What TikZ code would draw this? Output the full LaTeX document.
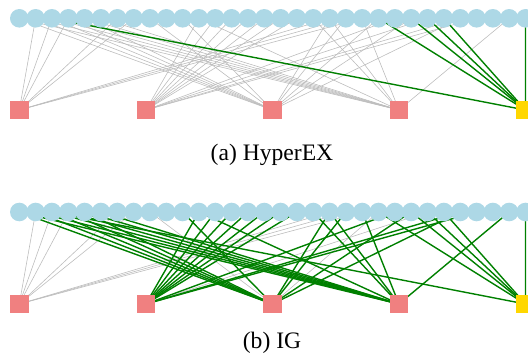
\documentclass[tikz,border=0pt]{standalone}
\usepackage{fontspec}
\setmainfont{Liberation Serif}
\definecolor{nodeblue}{HTML}{ADD8E6}
\definecolor{edgered}{HTML}{F08080}
\definecolor{edgegold}{HTML}{FFD700}
\definecolor{linkgray}{HTML}{BDBDBD}
\definecolor{linkgreen}{HTML}{008000}
\tikzset{
  vnode/.style={circle,fill=nodeblue,draw=none,minimum size=18.6pt,inner sep=0pt},
  hnode/.style={rectangle,fill=edgered,draw=none,minimum size=18.7pt,inner sep=0pt},
  hgold/.style={hnode,fill=edgegold},
  grayedge/.style={draw=linkgray,line width=0.6pt},
  greenedge/.style={draw=linkgreen,line width=1.4pt},
  caption/.style={anchor=base,font=\fontsize{23.6}{28}\selectfont,inner sep=0pt}
}
\begin{document}
\begin{tikzpicture}[x=1pt,y=-1pt]
\useasboundingbox (0,0) rectangle (528,356);
% vertex positions (circles) and hyperedge positions (squares)
\foreach \k in {0,...,31} {
  \coordinate (a\k) at ({19.3+16.33*\k},18.3);
  \coordinate (b\k) at ({19.3+16.33*\k},212);
}
\foreach \j in {0,...,4} {
  \coordinate (sa\j) at ({19.3+126.55*\j},110);
  \coordinate (sb\j) at ({19.3+126.55*\j},304);
}
% ---------- panel (a): HyperEX ----------
\foreach \k/\j in {1/0,2/0,3/0,6/0,7/0,19/0,20/0,21/0,
  11/1,12/1,13/1,14/1,15/1,16/1,17/1,23/1,25/1,27/1,28/1,
  0/2,1/2,2/2,3/2,4/2,8/2,10/2,19/2,20/2,22/2,24/2,27/2,
  0/3,1/3,2/3,3/3,4/3,5/3,11/3,18/3,19/3,21/3,30/3}
  \draw[grayedge] (a\k) -- (sa\j);
\foreach \k in {2,22,24,25,26,31}
  \draw[greenedge] (a\k) -- (sa4);
\foreach \k in {0,...,31} \node[vnode] (va\k) at (a\k) {};
\foreach \j in {0,...,3} \node[hnode] (ha\j) at (sa\j) {};
\node[hgold] (ha4) at (sa4) {};
\node[caption] (capa) at (272,160) {(a) HyperEX};
% ---------- panel (b): IG ----------
\foreach \k/\j in {1/0,2/0,3/0,6/0,7/0,19/0,20/0,21/0,
  25/1,8/2,22/2}
  \draw[grayedge] (b\k) -- (sb\j);
\foreach \k/\j in {11/1,12/1,13/1,14/1,15/1,16/1,17/1,23/1,27/1,28/1,
  0/2,1/2,2/2,3/2,4/2,10/2,19/2,20/2,24/2,27/2,
  0/3,1/3,2/3,3/3,4/3,5/3,11/3,18/3,19/3,21/3,30/3,
  2/4,22/4,24/4,25/4,26/4,31/4}
  \draw[greenedge] (b\k) -- (sb\j);
\foreach \k in {0,...,31} \node[vnode] (vb\k) at (b\k) {};
\foreach \j in {0,...,3} \node[hnode] (hb\j) at (sb\j) {};
\node[hgold] (hb4) at (sb4) {};
\node[caption] (capb) at (272,348.5) {(b) IG};
\end{tikzpicture}
\end{document}
